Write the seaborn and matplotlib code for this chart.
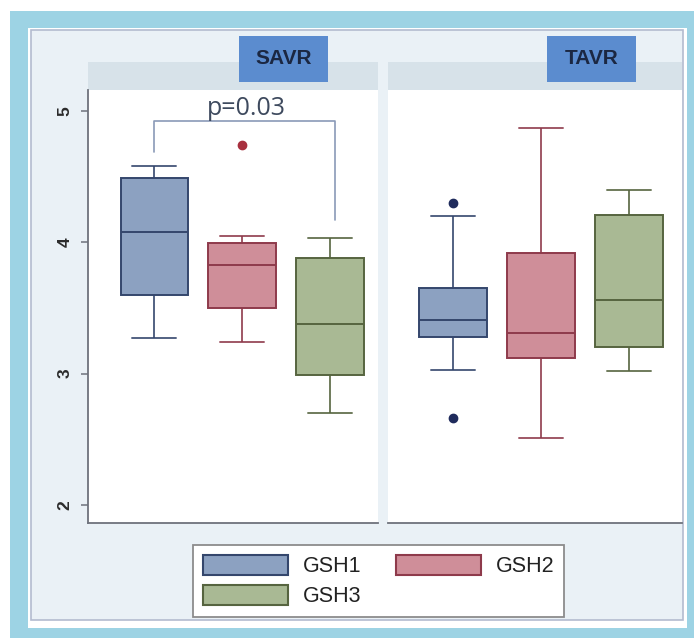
import matplotlib
matplotlib.use("Agg")
import matplotlib.pyplot as plt
from matplotlib.patches import Rectangle, Patch
import seaborn as sns
import pandas as pd

# values (five-number summaries plus outliers)
groups = ["GSH1", "GSH2", "GSH3"]
procedures = ["SAVR", "TAVR"]

savr_gsh1 = [3.27, 3.60, 4.08, 4.49, 4.58]
savr_gsh2 = [3.24, 3.40, 3.50, 3.70, 3.83, 3.92, 3.99, 4.05, 4.74]
savr_gsh3 = [2.70, 2.99, 3.38, 3.88, 4.03]
tavr_gsh1 = [2.66, 3.03, 3.28, 3.35, 3.41, 3.52, 3.65, 4.20, 4.30]
tavr_gsh2 = [2.51, 3.12, 3.31, 3.92, 4.87]
tavr_gsh3 = [3.02, 3.20, 3.56, 4.21, 4.40]

y_ticks = [2, 3, 4, 5]
p_label = "p=0.03"

fills = {"GSH1": "#8ca1c1", "GSH2": "#cf8e99", "GSH3": "#a9b994"}
edges = {"GSH1": "#34466c", "GSH2": "#8e3a4b", "GSH3": "#56643f"}
flier_cols = {"GSH1": "#1f2b5c", "GSH2": "#a8303f", "GSH3": "#56643f"}

rows = []
for proc, vals_by_group in [("SAVR", [savr_gsh1, savr_gsh2, savr_gsh3]),
                            ("TAVR", [tavr_gsh1, tavr_gsh2, tavr_gsh3])]:
    for g, vals in zip(groups, vals_by_group):
        for v in vals:
            rows.append({"procedure": proc, "group": g, "value": v})
df = pd.DataFrame(rows)

sns.set_style("white")
plt.rcParams["font.family"] = ["Liberation Sans", "DejaVu Sans"]

W, H = 694, 638
fig = plt.figure(figsize=(W / 100, H / 100), dpi=100)
fig.patch.set_facecolor("white")


def px_rect(x0, y0, x1, y1, **kw):
    # rectangle given in pixel coords measured from the top-left corner
    r = Rectangle((x0 / W, 1 - y1 / H), (x1 - x0) / W, (y1 - y0) / H,
                  transform=fig.transFigure, **kw)
    fig.patches.append(r)
    return r


# frame and panel backgrounds
px_rect(10, 11, 694, 638, facecolor="#9dd3e4", edgecolor="none", zorder=-10)
px_rect(28, 28, 687, 628, facecolor="white", edgecolor="none", zorder=-9)
px_rect(31, 30, 683, 620, facecolor="#eaf1f6", edgecolor="#b3bbcf", lw=1.2, zorder=-8)
px_rect(88, 62, 378, 90, facecolor="#d7e2e9", edgecolor="none", zorder=-7)
px_rect(388, 62, 682, 90, facecolor="#d7e2e9", edgecolor="none", zorder=-7)

ax1 = fig.add_axes([88 / W, 1 - 523 / H, 290 / W, 433 / H])
ax2 = fig.add_axes([388 / W, 1 - 523 / H, 294 / W, 433 / H])

for ax, proc in [(ax1, "SAVR"), (ax2, "TAVR")]:
    sub = df[df["procedure"] == proc]
    for g in groups:
        sns.boxplot(data=sub[sub["group"] == g], x="group", y="value",
                    order=groups, color=fills[g], linecolor=edges[g],
                    saturation=1, width=0.77, linewidth=1.4,
                    capwidths=0.5, fliersize=6,
                    flierprops=dict(marker="o", markerfacecolor=flier_cols[g],
                                    markeredgecolor=flier_cols[g]),
                    whiskerprops=dict(color=edges[g], alpha=0.85),
                    capprops=dict(color=edges[g], alpha=0.85),
                    ax=ax)
    ax.set_xlabel("")
    ax.set_ylabel("")
    ax.set_xticks([])
    ax.set_ylim(1.863, 5.158)
    for s in ["top", "right"]:
        ax.spines[s].set_visible(False)
    ax.spines["bottom"].set_color("#6e727c")
    ax.spines["bottom"].set_linewidth(1.3)

ax1.set_xlim(-0.756, 2.545)
ax2.set_xlim(-0.74, 2.6)

ax1.spines["left"].set_color("#6e727c")
ax1.spines["left"].set_linewidth(1.3)
ax1.set_yticks(y_ticks)
ax1.set_yticklabels([str(t) for t in y_ticks], rotation=90, va="center",
                    fontsize=12.5, fontweight="bold", color="#2b2b2b")
ax1.tick_params(axis="y", length=5, width=1.1, color="#6e727c", pad=6, left=True)

ax2.spines["left"].set_visible(False)
ax2.set_yticks([])

# significance bracket
ax1.plot([0, 0, 2.06, 2.06], [4.69, 4.92, 4.92, 4.17], color="#8a9ab7",
         lw=1.2, clip_on=False)
ax1.text(1.05, 5.02, p_label, ha="center", va="center", fontsize=18,
         color="#3e4a5e", family=["Open Sans", "DejaVu Sans"])

# panel header boxes
for proc, (x0, x1) in zip(procedures, [(239, 328), (547, 636)]):
    px_rect(x0, 36, x1, 82, facecolor="#5b8ccf", edgecolor="none", zorder=2)
    fig.text((x0 + x1) / 2 / W, 1 - 59 / H, proc, ha="center", va="center",
             fontsize=15, fontweight="bold", color="#1b2742", zorder=3)

# legend filled row by row: GSH1 GSH2 / GSH3
leg_order = ["GSH1", "GSH3", "GSH2"]
handles = [Patch(facecolor=fills[g], edgecolor=edges[g], lw=1.5, label=g)
           for g in leg_order]
leg = fig.legend(handles=handles, loc="upper left",
                 bbox_to_anchor=(193 / W, 1 - 545 / H),
                 bbox_transform=fig.transFigure, ncol=2, fontsize=15.5,
                 handlelength=3.95, handleheight=1.05, handletextpad=0.7,
                 columnspacing=1.6, labelspacing=0.35, borderpad=0.45,
                 borderaxespad=0, fancybox=False, framealpha=1)
leg.get_frame().set_edgecolor("#8c8c8c")
leg.get_frame().set_linewidth(1.3)
for t in leg.get_texts():
    t.set_color("#222222")

fig.savefig("out.png", dpi=100)
